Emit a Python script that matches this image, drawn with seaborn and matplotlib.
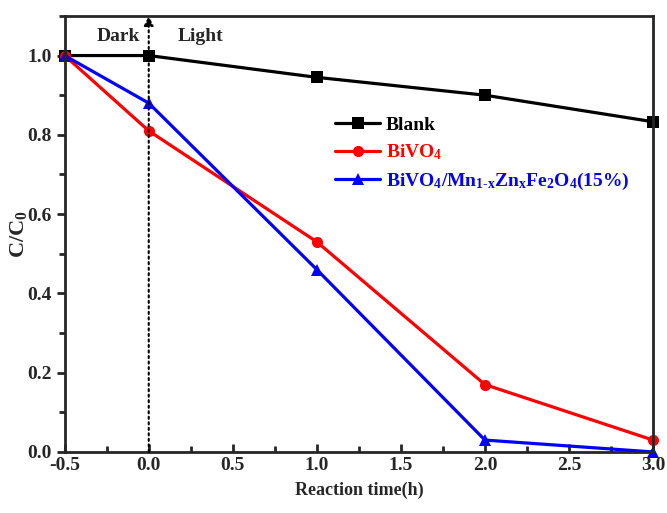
import pandas as pd
import seaborn as sns
from matplotlib import pyplot as plt
from matplotlib.ticker import MultipleLocator

# Data
time_h = [-0.5, 0.0, 1.0, 2.0, 3.0]
blank = [1.0, 1.0, 0.945, 0.9, 0.833]
bivo4 = [1.0, 0.81, 0.53, 0.17, 0.03]
composite = [1.0, 0.88, 0.46, 0.03, 0.0]
series_names = ['Blank', r'BiVO$_\mathbf{4}$',
                r'BiVO$_\mathbf{4}$/Mn$_\mathbf{1\text{-}x}$Zn$_\mathbf{x}$Fe$_\mathbf{2}$O$_\mathbf{4}$(15%)']
colors = ['black', 'red', 'blue']
markers = ['s', 'o', '^']

sns.set_style('ticks')
plt.rcParams['font.family'] = ['Liberation Serif', 'DejaVu Serif']
plt.rcParams['font.weight'] = 'bold'
plt.rcParams['axes.unicode_minus'] = False
plt.rcParams['mathtext.fontset'] = 'custom'
plt.rcParams['mathtext.rm'] = 'Liberation Serif:bold'
plt.rcParams['mathtext.bf'] = 'Liberation Serif:bold'
plt.rcParams['mathtext.it'] = 'Liberation Serif:bold'

df = pd.DataFrame({
    'time': time_h * 3,
    'c': blank + bivo4 + composite,
    'sample': [series_names[0]] * 5 + [series_names[1]] * 5 + [series_names[2]] * 5,
})

fig = plt.figure(figsize=(6.67, 5.13), dpi=100)
ax = fig.add_axes([0.097, 0.119, 0.882, 0.85])

sns.lineplot(data=df, x='time', y='c', hue='sample', style='sample',
             palette=colors, markers=markers, dashes=False, linewidth=2.3,
             markersize=8, markeredgewidth=0, ax=ax, clip_on=False)

ax.set_xlim(-0.5, 3.0)
ax.set_ylim(0, 1.1)
ax.xaxis.set_major_locator(MultipleLocator(0.5))
ax.xaxis.set_minor_locator(MultipleLocator(0.25))
ax.yaxis.set_major_locator(MultipleLocator(0.2))
ax.yaxis.set_minor_locator(MultipleLocator(0.1))
ax.tick_params(axis='x', which='both', direction='in', width=2, labelsize=14)
ax.tick_params(axis='x', which='major', length=6)
ax.tick_params(axis='x', which='minor', length=4)
ax.tick_params(axis='y', which='both', direction='out', width=2, labelsize=14)
ax.tick_params(axis='y', which='major', length=6)
ax.tick_params(axis='y', which='minor', length=4)
for lbl in ax.get_xticklabels() + ax.get_yticklabels():
    lbl.set_fontweight('bold')
for sp in ax.spines.values():
    sp.set_visible(True)
    sp.set_linewidth(2)

ax.set_xlabel('Reaction time(h)', fontsize=13, fontweight='bold', labelpad=6)
ax.set_ylabel(r'C/C$_\mathbf{0}$', fontsize=16, fontweight='bold')
ax.yaxis.set_label_coords(-0.06, 0.5)

# dark / light separator
ax.annotate('', xy=(0, 1.1), xytext=(0, 0),
            arrowprops=dict(arrowstyle='-|>', linestyle=':', lw=1.5, color='black',
                            mutation_scale=14, shrinkA=0, shrinkB=0))
ax.text(-0.18, 1.048, 'Dark', ha='center', va='center', fontsize=14, fontweight='bold')
ax.text(0.17, 1.048, 'Light', ha='left', va='center', fontsize=14, fontweight='bold')

leg = ax.legend(loc='upper left', bbox_to_anchor=(0.43, 0.81), frameon=False,
                fontsize=14, handlelength=2.3, handletextpad=0.3, labelspacing=0.45)
for txt, col in zip(leg.get_texts(), colors):
    txt.set_color(col)
    txt.set_fontweight('bold')

fig.savefig('out.png', dpi=100)
